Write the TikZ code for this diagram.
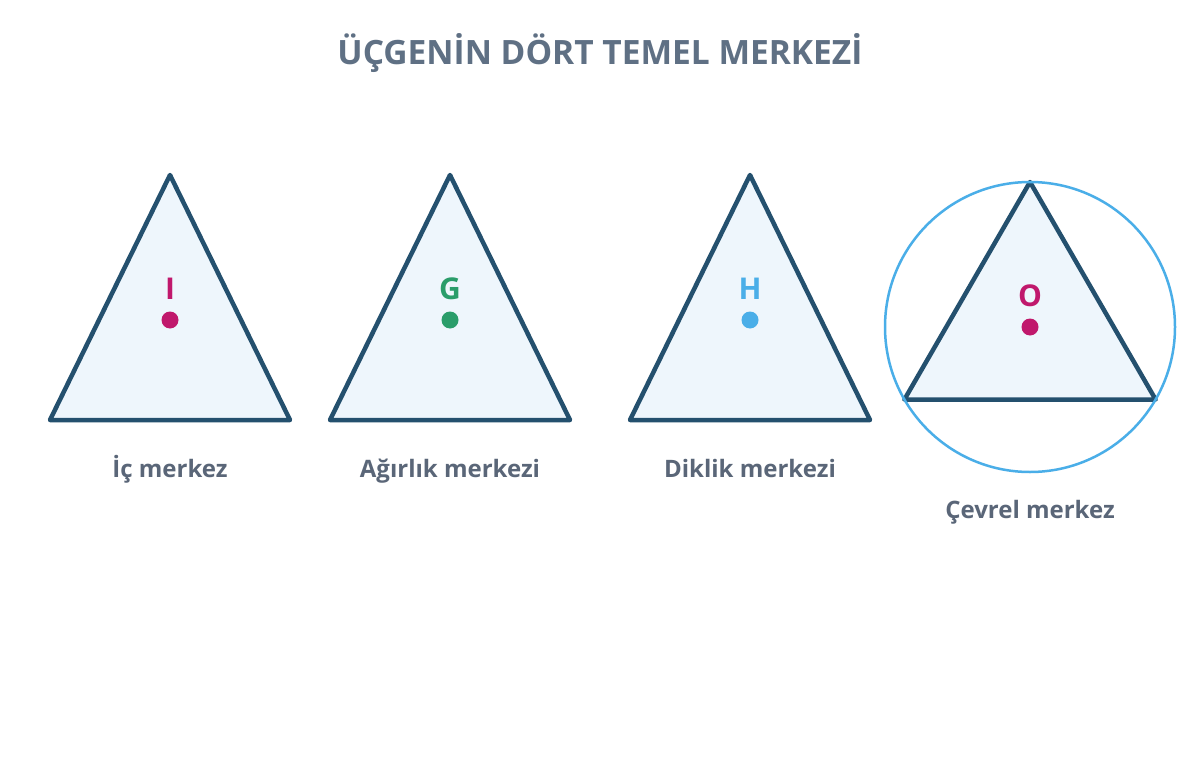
\documentclass[tikz,border=0pt]{standalone}
\usepackage{fontspec}
\setmainfont{Open Sans}
\definecolor{tristroke}{HTML}{24506E}
\definecolor{trifill}{HTML}{EEF6FC}
\definecolor{titlecol}{HTML}{5F7084}
\definecolor{labcol}{HTML}{5A6678}
\definecolor{magenta}{HTML}{C0186C}
\definecolor{greenc}{HTML}{2A9D6A}
\definecolor{bluec}{HTML}{4AAEE8}
\begin{document}
\begin{tikzpicture}[x=1pt,y=-1pt,
  tri/.style={draw=tristroke,fill=trifill,line width=4.5pt,line join=round},
  dotc/.style={circle,inner sep=0pt,minimum size=17pt},
  letter/.style={font=\fontsize{30}{34}\selectfont\bfseries,inner sep=0pt,anchor=base},
  caption/.style={font=\fontsize{24}{28}\selectfont\bfseries,text=labcol,inner sep=0pt,anchor=base},
]
\useasboundingbox (0,0) rectangle (1200,760);
\fill[white] (0,0) rectangle (1200,760);
\node[font=\fontsize{33.5}{40}\selectfont\bfseries,text=titlecol,inner sep=0pt,anchor=base] (title) at (600,65) {ÜÇGENİN DÖRT TEMEL MERKEZİ};
% triangle 1
\coordinate (a1) at (170,175); \coordinate (b1) at (50,420); \coordinate (c1) at (290,420);
\draw[tri] (a1) -- (b1) -- (c1) -- cycle;
\node[dotc,fill=magenta] (d1) at (170,320) {};
\node[letter,text=magenta] (l1) at (170,299) {I};
\node[caption] (t1) at (170,477) {İç merkez};
% triangle 2
\coordinate (a2) at (450,175); \coordinate (b2) at (330,420); \coordinate (c2) at (570,420);
\draw[tri] (a2) -- (b2) -- (c2) -- cycle;
\node[dotc,fill=greenc] (d2) at (450,320) {};
\node[letter,text=greenc] (l2) at (450,299) {G};
\node[caption] (t2) at (450,477) {Ağırlık merkezi};
% triangle 3
\coordinate (a3) at (750,175); \coordinate (b3) at (630,420); \coordinate (c3) at (870,420);
\draw[tri] (a3) -- (b3) -- (c3) -- cycle;
\node[dotc,fill=bluec] (d3) at (750,320) {};
\node[letter,text=bluec] (l3) at (750,299) {H};
\node[caption] (t3) at (750,477) {Diklik merkezi};
% triangle 4 with circumcircle
\coordinate (o4) at (1030,327);
\coordinate (a4) at (1030,182); \coordinate (b4) at (904.4,399.5); \coordinate (c4) at (1155.6,399.5);
\draw[tri] (a4) -- (b4) -- (c4) -- cycle;
\draw[bluec,line width=2.5pt] (o4) circle[radius=145];
\node[dotc,fill=magenta] (d4) at (o4) {};
\node[letter,text=magenta] (l4) at (1030,306) {O};
\node[caption] (t4) at (1030,518) {Çevrel merkez};
\end{tikzpicture}
\end{document}
